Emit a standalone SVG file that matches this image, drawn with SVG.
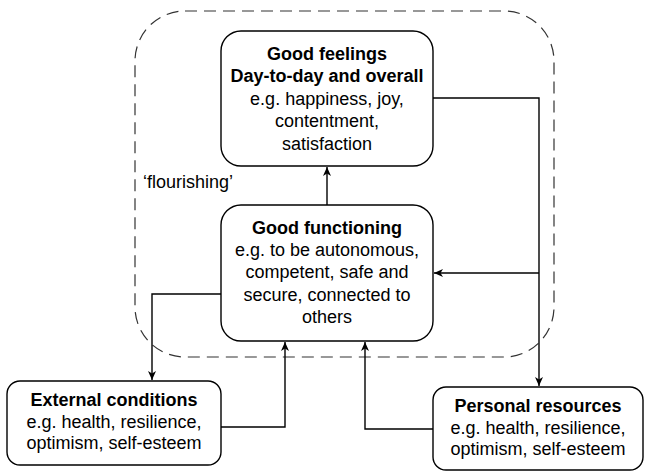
<svg xmlns="http://www.w3.org/2000/svg" width="645" height="472" viewBox="0 0 645 472">
<defs>
<style>
.box{fill:#fff;stroke:#000;stroke-width:1.4}
.t{font-family:"Liberation Sans",Arial,sans-serif;font-size:18px;fill:#000;text-anchor:middle}
.b{font-weight:bold}
.c{fill:none;stroke:#000;stroke-width:1.4}
</style>
<marker id="ah" markerWidth="10" markerHeight="10" refX="9" refY="4" orient="auto" markerUnits="userSpaceOnUse">
<path d="M0,0 L9,4 L0,8 L2.5,4 z" fill="#000"/>
</marker>
</defs>
<rect width="645" height="472" fill="#fff"/>
<g id="flourishing">
<rect x="135" y="11" width="419" height="346" rx="50" ry="50" fill="none" stroke="#333" stroke-width="1.2" stroke-dasharray="12 7"/>
<text class="t" x="143" y="188" style="text-anchor:start">‘flourishing’</text>
</g>
<g id="connectors">
<path class="c" d="M327,205 L327,167" marker-end="url(#ah)"/>
<path class="c" d="M433,98 L539,98 L539,386" marker-end="url(#ah)"/>
<path class="c" d="M539,273 L434,273" marker-end="url(#ah)"/>
<path class="c" d="M221,294 L152,294 L152,380" marker-end="url(#ah)"/>
<path class="c" d="M221,427 L285,427 L285,342" marker-end="url(#ah)"/>
<path class="c" d="M433,429 L365,429 L365,342" marker-end="url(#ah)"/>
</g>
<g id="good-feelings">
<rect class="box" x="221" y="31" width="212" height="135" rx="20" ry="20"/>
<text class="t b" x="327" y="60">Good feelings</text>
<text class="t b" x="327" y="82.4">Day-to-day and overall</text>
<text class="t" x="327" y="104.8">e.g. happiness, joy,</text>
<text class="t" x="327" y="127.2">contentment,</text>
<text class="t" x="327" y="149.6">satisfaction</text>
</g>
<g id="good-functioning">
<rect class="box" x="221" y="205" width="212" height="136" rx="20" ry="20"/>
<text class="t b" x="327" y="234">Good functioning</text>
<text class="t" x="327" y="256">e.g. to be autonomous,</text>
<text class="t" x="327" y="278">competent, safe and</text>
<text class="t" x="327" y="300.5">secure, connected to</text>
<text class="t" x="327" y="322.7">others</text>
</g>
<g id="external-conditions">
<rect class="box" x="7" y="381" width="214" height="84" rx="13" ry="13"/>
<text class="t b" x="114" y="405.7">External conditions</text>
<text class="t" x="114" y="427.5">e.g. health, resilience,</text>
<text class="t" x="114" y="449.3">optimism, self-esteem</text>
</g>
<g id="personal-resources">
<rect class="box" x="433" y="387" width="210" height="83" rx="13" ry="13"/>
<text class="t b" x="538" y="411.7">Personal resources</text>
<text class="t" x="538" y="433.5">e.g. health, resilience,</text>
<text class="t" x="538" y="455.3">optimism, self-esteem</text>
</g>
</svg>
